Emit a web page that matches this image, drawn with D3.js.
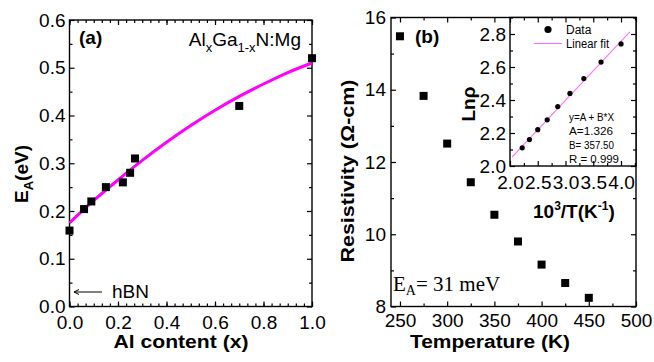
<!DOCTYPE html>
<html lang="en">
<head>
<meta charset="UTF-8">
<script src="https://d3js.org/d3.v7.min.js"></script>
<style>
  body { margin: 0; background: #fff; }
  svg { display: block; font-family: "Liberation Sans", Arial, sans-serif; }
  .tick text { font-size: 19px; fill: #000; }
  .tick line { stroke: #000; stroke-width: 1.2; }
  .frame { fill: none; stroke: #000; stroke-width: 1.4; }
  .title { font-weight: bold; fill: #000; }
</style>
</head>
<body>
<div id="chart"></div>
<script>
// panel (a): Mg acceptor energy vs Al content
const alContent = [0.0, 0.06, 0.09, 0.15, 0.22, 0.25, 0.27, 0.70, 1.0];
const eaValues  = [0.159, 0.204, 0.220, 0.250, 0.260, 0.280, 0.310, 0.420, 0.520];
const fitAlX    = [0.0, 0.1, 0.2, 0.3, 0.4, 0.5, 0.6, 0.7, 0.8, 0.9, 1.0];
const fitEaY    = [0.175, 0.222, 0.265, 0.306, 0.344, 0.379, 0.411, 0.440, 0.466, 0.490, 0.510];

// panel (b): resistivity vs temperature
const temperature = [250, 275, 300, 325, 350, 375, 400, 425, 450];
const resistivity = [15.48, 13.83, 12.51, 11.44, 10.54, 9.80, 9.16, 8.65, 8.24];

// inset: ln(rho) vs 1000/T
const invT   = [2.22, 2.35, 2.50, 2.67, 2.86, 3.08, 3.33, 3.64, 4.00];
const lnRho  = [2.11, 2.16, 2.22, 2.28, 2.36, 2.44, 2.53, 2.63, 2.74];
const fitInvT  = [2.04, 4.16];
const fitLnRho = [2.055, 2.813];
const fitText = ["y=A + B*X", "A=1.326", "B= 357.50", "R = 0.999"];

const svg = d3.select("#chart").append("svg")
  .attr("width", 654).attr("height", 362);

// draws a boxed frame with inward ticks on all four sides
function box(x, y, o) {
  const [x0, x1] = x.range(), [y0, y1] = y.range();
  const g = svg.append("g");
  g.append("rect").attr("fill", "#fff").attr("x", x0).attr("y", y1)
    .attr("width", x1 - x0).attr("height", y0 - y1);

  const sides = [
    {ax: d3.axisBottom(x), t: `translate(0,${y0})`, major: o.xMajor, minor: o.xMinor, lab: true},
    {ax: d3.axisTop(x),    t: `translate(0,${y1})`, major: o.xMajor, minor: o.xMinor, lab: false},
    {ax: d3.axisLeft(y),   t: `translate(${x0},0)`, major: o.yMajor, minor: o.yMinor, lab: true},
    {ax: d3.axisRight(y),  t: `translate(${x1},0)`, major: o.yMajor, minor: o.yMinor, lab: false}
  ];
  sides.forEach((s, i) => {
    const horiz = i < 2;
    const ga = g.append("g").attr("transform", s.t)
      .call(s.ax.tickValues(s.major).tickSize(-5)
        .tickFormat(s.lab ? (horiz ? o.xFmt : o.yFmt) : ""));
    ga.select(".domain").remove();
    if (s.lab) {
      if (horiz) ga.selectAll("text").attr("y", o.xLabOff).attr("dy", null);
      else ga.selectAll("text").attr("x", -o.yLabOff);
    }
    const gm = g.append("g").attr("transform", s.t)
      .call(s.ax.tickValues(s.minor).tickSize(-3).tickFormat(""));
    gm.select(".domain").remove();
  });
  g.append("rect").attr("class", "frame").attr("x", x0).attr("y", y1)
    .attr("width", x1 - x0).attr("height", y0 - y1);
  return g;
}

// ---------- panel (a)
const xa = d3.scaleLinear().domain([0, 1]).range([69.5, 312]);
const ya = d3.scaleLinear().domain([0, 0.6]).range([306.5, 20]);
box(xa, ya, {
  xMajor: d3.range(0, 1.001, 0.2), xMinor: d3.range(0, 1.001, 0.2 / 6),
  yMajor: d3.range(0, 0.601, 0.1), yMinor: d3.range(0.05, 0.6, 0.1),
  xFmt: d3.format(".1f"), yFmt: d3.format(".1f"), xLabOff: 22.5, yLabOff: 4
});

svg.append("path")
  .datum(fitAlX.map((d, i) => [d, fitEaY[i]]))
  .attr("fill", "none").attr("stroke", "#ff00ff").attr("stroke-width", 3)
  .attr("d", d3.line().x(d => xa(d[0])).y(d => ya(d[1])).curve(d3.curveMonotoneX));

svg.selectAll(".sqa").data(alContent).enter().append("rect")
  .attr("x", (d, i) => xa(d) - 4).attr("y", (d, i) => ya(eaValues[i]) - 4)
  .attr("width", 8).attr("height", 8).attr("fill", "#000");

svg.append("text").attr("class", "title").attr("x", 79).attr("y", 44)
  .attr("font-size", 19).text("(a)");

const alt = svg.append("text").attr("x", 301).attr("y", 46).attr("text-anchor", "end")
  .attr("font-size", 19);
alt.append("tspan").text("Al");
alt.append("tspan").attr("font-size", 13).attr("dy", 6).text("x");
alt.append("tspan").attr("dy", -6).text("Ga");
alt.append("tspan").attr("font-size", 13).attr("dy", 6).text("1-x");
alt.append("tspan").attr("dy", -6).text("N:Mg");

svg.append("path").attr("d", "M102,292H74").attr("stroke", "#000").attr("stroke-width", 1);
svg.append("path").attr("d", "M79,289.5L74,292L79,294.5").attr("fill", "none")
  .attr("stroke", "#000").attr("stroke-width", 1);
svg.append("text").attr("x", 112).attr("y", 298).attr("font-size", 19).text("hBN");

svg.append("text").attr("class", "title").attr("x", 181).attr("y", 348)
  .attr("text-anchor", "middle").attr("font-size", 18)
  .attr("textLength", 135).attr("lengthAdjust", "spacingAndGlyphs")
  .text("Al content (x)");

const eat = svg.append("text").attr("class", "title").attr("font-size", 19)
  .attr("text-anchor", "middle").attr("transform", "translate(28,174) rotate(-90)");
eat.append("tspan").text("E");
eat.append("tspan").attr("font-size", 13).attr("dy", 5).text("A");
eat.append("tspan").attr("dy", -5).text("(eV)");

// ---------- panel (b)
const xb = d3.scaleLinear().domain([240.5, 500]).range([391, 636]);
const yb = d3.scaleLinear().domain([8, 16]).range([306.5, 17.5]);
box(xb, yb, {
  xMajor: d3.range(250, 501, 50), xMinor: d3.range(275, 500, 50),
  yMajor: d3.range(8, 16.1, 2), yMinor: d3.range(9, 16, 2),
  xFmt: d3.format("d"), yFmt: d3.format("d"), xLabOff: 20.5, yLabOff: 5
});

svg.selectAll(".sqb").data(temperature).enter().append("rect")
  .attr("x", d => xb(d) - 4).attr("y", (d, i) => yb(resistivity[i]) - 4)
  .attr("width", 8).attr("height", 8).attr("fill", "#000");

svg.append("text").attr("class", "title").attr("x", 415).attr("y", 43)
  .attr("font-size", 19).text("(b)");

const eam = svg.append("text").attr("x", 393).attr("y", 291)
  .attr("font-family", "'Liberation Serif', 'Times New Roman', serif").attr("font-size", 21);
eam.append("tspan").text("E");
eam.append("tspan").attr("font-size", 14).attr("dy", 4).text("A");
eam.append("tspan").attr("dy", -4).text("= 31 meV");

svg.append("text").attr("class", "title").attr("x", 490).attr("y", 348)
  .attr("text-anchor", "middle").attr("font-size", 18)
  .attr("textLength", 160).attr("lengthAdjust", "spacingAndGlyphs")
  .text("Temperature (K)");

svg.append("text").attr("class", "title").attr("font-size", 18)
  .attr("text-anchor", "middle").attr("transform", "translate(354,171) rotate(-90)")
  .attr("textLength", 183).attr("lengthAdjust", "spacingAndGlyphs")
  .text("Resistivity (\u03a9-cm)");

// ---------- inset
const xi = d3.scaleLinear().domain([2.0, 4.27]).range([510, 636]);
const yi = d3.scaleLinear().domain([2.0, 2.9]).range([166, 17.5]);
box(xi, yi, {
  xMajor: d3.range(2.0, 4.01, 0.5), xMinor: d3.range(2.25, 4.27, 0.5),
  yMajor: d3.range(2.0, 2.81, 0.2), yMinor: d3.range(2.1, 2.91, 0.2),
  xFmt: d3.format(".1f"), yFmt: d3.format(".1f"), xLabOff: 22.5, yLabOff: 4
});

svg.append("path")
  .datum(fitInvT.map((d, i) => [d, fitLnRho[i]]))
  .attr("fill", "none").attr("stroke", "#ff70ff").attr("stroke-width", 1.1)
  .attr("d", d3.line().x(d => xi(d[0])).y(d => yi(d[1])));

svg.selectAll(".dot").data(invT).enter().append("circle")
  .attr("cx", d => xi(d)).attr("cy", (d, i) => yi(lnRho[i]))
  .attr("r", 2.6).attr("fill", "#000");

// legend
svg.append("circle").attr("cx", 548).attr("cy", 29.5).attr("r", 3.6).attr("fill", "#000");
svg.append("text").attr("x", 566).attr("y", 33.5).attr("font-size", 12).text("Data");
svg.append("path").attr("d", "M534,43.5H562").attr("stroke", "#ff70ff").attr("stroke-width", 1.1);
svg.append("text").attr("x", 566).attr("y", 47.5).attr("font-size", 12)
  .attr("textLength", 43).attr("lengthAdjust", "spacingAndGlyphs").text("Linear fit");

const fitY = [121, 135, 149, 162.5];
const fitW = [45, 44, 45, 50];
fitText.forEach((t, i) => {
  svg.append("text").attr("x", 569).attr("y", fitY[i]).attr("font-size", 11)
    .attr("textLength", fitW[i]).attr("lengthAdjust", "spacingAndGlyphs").text(t);
});

svg.append("text").attr("class", "title").attr("font-size", 19)
  .attr("text-anchor", "middle").attr("transform", "translate(475,104) rotate(-90)")
  .text("Ln\u03c1");

const it = svg.append("text").attr("class", "title").attr("x", 533).attr("y", 218)
  .attr("font-size", 19);
it.append("tspan").text("10");
it.append("tspan").attr("font-size", 12).attr("dy", -8).text("3");
it.append("tspan").attr("dy", 8).text("/T(K");
it.append("tspan").attr("font-size", 12).attr("dy", -8).text("-1");
it.append("tspan").attr("dy", 8).text(")");
</script>
</body>
</html>
